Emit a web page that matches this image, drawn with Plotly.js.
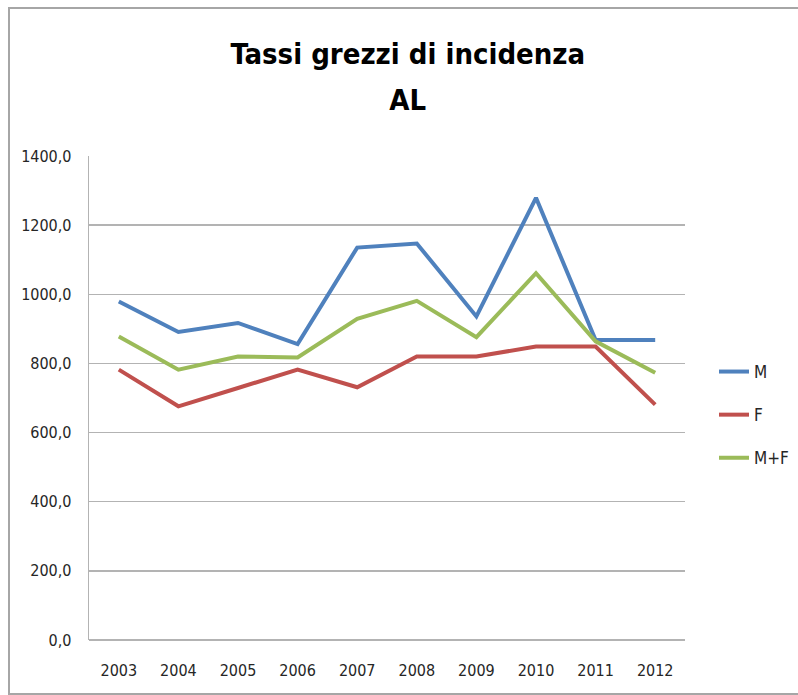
<!DOCTYPE html>
<html>
<head>
<meta charset="utf-8">
<script src="https://cdn.plot.ly/plotly-3.0.1.min.js"></script>
<style>html,body{margin:0;padding:0;background:#fff;}#chart{width:798px;height:695px;}</style>
</head>
<body>
<div id="chart"></div>
<script>
var years = ["2003","2004","2005","2006","2007","2008","2009","2010","2011","2012"];
var seriesM  = [979, 891, 917, 856, 1135, 1147, 936, 1279, 868, 868];
var seriesF  = [782, 676, 729, 782, 731, 820, 820, 849, 849, 681];
var seriesMF = [878, 782, 820, 817, 929, 981, 876, 1061, 864, 773];
var yTicks = [0, 200, 400, 600, 800, 1000, 1200, 1400];

var FONT = '"Liberation Sans Narrow", "Arial Narrow", "DejaVu Sans Condensed", sans-serif';

function tr(name, y, color, g) {
  return {x: years, y: y, name: name, type: 'scatter', mode: 'lines',
          legendgroup: g, line: {color: color, width: 4}};
}
var data = [
  tr('M', seriesM, '#4F81BD', 'a'),
  tr('F', seriesF, '#C0504D', 'b'),
  tr('M+F', seriesMF, '#9BBB59', 'c')
];

var W = 798, H = 695, L = 89, R = 113, T = 156, B = 55;
var pw = W - L - R, ph = H - T - B;
function px(x){ return (x - L) / pw; }
function py(y){ return (H - B - y) / ph; }

var layout = {
  width: W, height: H,
  margin: {l: L, r: R, t: T, b: B, autoexpand: false},
  paper_bgcolor: '#ffffff', plot_bgcolor: '#ffffff',
  separators: ',.',
  font: {family: FONT, color: '#262626', size: 16},
  title: {
    text: '<b><span style="font-size:29px">Tassi grezzi di incidenza</span><br><span style="font-size:29px">AL</span></b>',
    font: {family: FONT, size: 35, color: '#000000'},
    xref: 'container', x: 0.511, xanchor: 'center',
    yref: 'container', y: 1 - 64 / H, yanchor: 'top'
  },
  xaxis: {
    type: 'category', range: [-0.5, 9.5], fixedrange: true,
    showgrid: false, showline: false, zeroline: false,
    ticks: '', tickfont: {family: FONT, size: 16, color: '#262626'},
    ticklabelstandoff: 19
  },
  yaxis: {
    range: [0, 1400], tickvals: yTicks, tickformat: '.1f',
    showgrid: true, gridcolor: '#b3b3b3', gridwidth: 1.3,
    showline: true, linecolor: '#b3b3b3', linewidth: 1.3,
    zeroline: true, zerolinecolor: '#b3b3b3', zerolinewidth: 1.3,
    ticks: '', tickfont: {family: FONT, size: 16, color: '#262626'},
    ticklabelstandoff: 13
  },
  showlegend: true,
  legend: {
    x: px(714), xanchor: 'left', y: py(415), yanchor: 'middle',
    traceorder: 'grouped', tracegroupgap: 18,
    font: {family: FONT, size: 17, color: '#262626'},
    bgcolor: 'rgba(0,0,0,0)'
  },
  shapes: [{
    type: 'rect', xref: 'paper', yref: 'paper',
    x0: px(9), x1: px(830), y0: py(694), y1: py(8),
    line: {color: '#a6a6a6', width: 2}, layer: 'below'
  }]
};

Plotly.newPlot('chart', data, layout, {displayModeBar: false, staticPlot: true});
</script>
</body>
</html>
